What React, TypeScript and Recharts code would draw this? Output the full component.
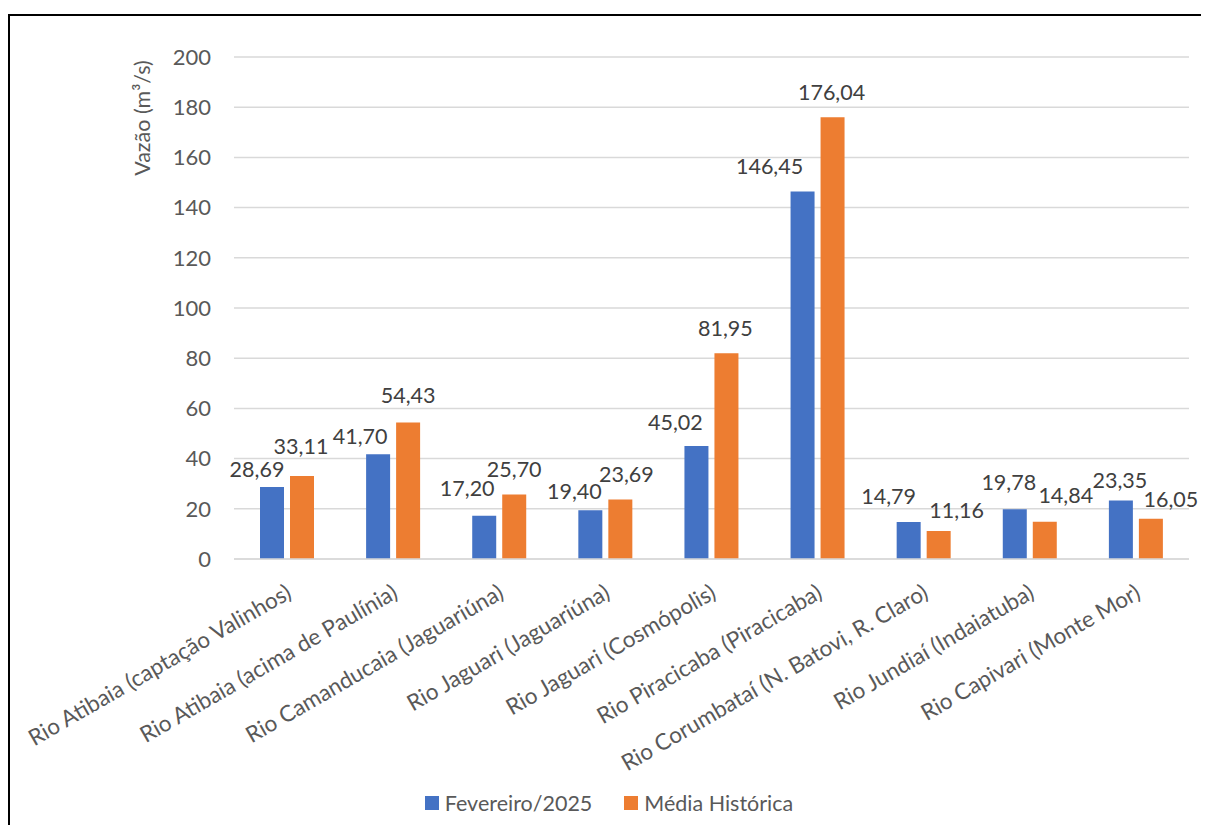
import React from 'react';
import {
  BarChart,
  Bar,
  XAxis,
  YAxis,
  CartesianGrid,
  Legend,
  LabelList,
  Label
} from 'recharts';

const categories = [
  'Rio Atibaia (captação Valinhos)',
  'Rio Atibaia (acima de Paulínia)',
  'Rio Camanducaia (Jaguariúna)',
  'Rio Jaguari (Jaguariúna)',
  'Rio Jaguari (Cosmópolis)',
  'Rio Piracicaba (Piracicaba)',
  'Rio Corumbataí (N. Batovi, R. Claro)',
  'Rio Jundiaí (Indaiatuba)',
  'Rio Capivari (Monte Mor)'
];
const fevereiro2025 = [28.69, 41.7, 17.2, 19.4, 45.02, 146.45, 14.79, 19.78, 23.35];
const mediaHistorica = [33.11, 54.43, 25.7, 23.69, 81.95, 176.04, 11.16, 14.84, 16.05];
const yTicks = [0, 20, 40, 60, 80, 100, 120, 140, 160, 180, 200];

// label nudges (px) so the value labels sit where the original placed them
const fevShift = [-15, -18, -17, -16, -21, -33, -20, -6, -1];
const fevLift = [17, 18, 27, 19, 23, 25, 25, 27, 20];
const medShift = [-1, 0, 0, 6, -1, -1, 18, 21, 20];
const medLift = [29, 27, 25, 25, 25, 25, 20, 26, 19];

const data = categories.map((name, i) => ({
  name,
  fev: fevereiro2025[i],
  med: mediaHistorica[i]
}));
const boundaryTicks = categories.map((_, i) => i).concat(categories.length);

const FONT = 'Lato, "Noto Sans", sans-serif';
const BLUE = '#4472C4';
const ORANGE = '#ED7D31';
const GRID = '#d9d9d9';
const TEXT = '#595959';

const fmt = (v: number) => v.toFixed(2).replace('.', ',');

const makeLabel = (shift: number[], lift: number[]) => (props: any) => {
  const { x, y, width, value, index } = props;
  return (
    <text
      x={x + width / 2 + shift[index]}
      y={y - lift[index] + 7.5}
      textAnchor="middle"
      fill="#404040"
      fontSize={21.5}
      fontFamily={FONT}
    >
      {fmt(value)}
    </text>
  );
};

function CategoryTick({ x, y, payload }: any) {
  const ax = x + 6;
  const ay = y + 38;
  return (
    <text
      x={ax}
      y={ay}
      transform={`rotate(-30 ${ax} ${ay})`}
      textAnchor="end"
      fill={TEXT}
      fontSize={22.5}
      fontFamily={FONT}
    >
      {payload.value}
    </text>
  );
}

function YTitle({ viewBox }: any) {
  const cx = viewBox.x + 135;
  const cy = viewBox.y + 61;
  return (
    <text
      x={cx}
      y={cy}
      transform={`rotate(-90 ${cx} ${cy})`}
      textAnchor="middle"
      dominantBaseline="central"
      fill={TEXT}
      fontSize={21.5}
      fontFamily={FONT}
    >
      Vazão (m³/s)
    </text>
  );
}

function LegendContent({ payload }: any) {
  return (
    <div
      style={{
        display: 'flex',
        justifyContent: 'center',
        alignItems: 'center',
        gap: 32,
        paddingLeft: 22,
        height: 24,
        fontFamily: FONT,
        fontSize: 21.5,
        color: TEXT
      }}
    >
      {(payload || []).map((p: any) => (
        <div key={p.value} style={{ display: 'flex', alignItems: 'center' }}>
          <span style={{ width: 14, height: 14, background: p.color, marginRight: 6, display: 'inline-block' }} />
          <span>{p.value}</span>
        </div>
      ))}
    </div>
  );
}

export default function App() {
  return (
    <div
      style={{
        position: 'relative',
        width: 1202,
        height: 817,
        marginLeft: -1,
        overflow: 'hidden',
        background: '#fff'
      }}
    >
      <style>{'html, body { overflow: hidden; }'}</style>
      <BarChart
        width={1202}
        height={817}
        data={data}
        margin={{ top: 49, right: 20, bottom: 10, left: 0 }}
        barSize={24}
        barGap={6}
      >
        <CartesianGrid vertical={false} stroke={GRID} strokeWidth={1.5} />
        <XAxis
          xAxisId="cat"
          dataKey="name"
          interval={0}
          height={232}
          tickLine={false}
          tickSize={0}
          tickMargin={0}
          axisLine={{ stroke: GRID, strokeWidth: 1.5 }}
          tick={<CategoryTick />}
        />
        <XAxis
          xAxisId="edges"
          type="number"
          domain={[0, categories.length]}
          ticks={boundaryTicks}
          allowDataOverflow
          mirror
          height={0}
          tick={false}
          tickSize={7}
          axisLine={false}
          tickLine={{ stroke: GRID, strokeWidth: 1.5 }}
        />
        <YAxis
          width={227}
          domain={[0, 200]}
          ticks={yTicks}
          tickLine={false}
          axisLine={false}
          tickSize={0}
          tickMargin={23}
          tick={{ fill: TEXT, fontSize: 22, fontFamily: FONT }}
        >
          <Label content={<YTitle />} />
        </YAxis>
        <Legend
          verticalAlign="bottom"
          height={24}
          content={<LegendContent />}
        />
        <Bar xAxisId="cat" dataKey="fev" name="Fevereiro/2025" fill={BLUE} isAnimationActive={false}>
          <LabelList dataKey="fev" content={makeLabel(fevShift, fevLift)} />
        </Bar>
        <Bar xAxisId="cat" dataKey="med" name="Média Histórica" fill={ORANGE} isAnimationActive={false}>
          <LabelList dataKey="med" content={makeLabel(medShift, medLift)} />
        </Bar>
      </BarChart>
      <div style={{ position: 'absolute', left: 0, top: 6, width: '100%', height: 2, background: '#000' }} />
      <div style={{ position: 'absolute', left: 0, top: 6, width: 3, height: 811, background: '#000' }} />
    </div>
  );
}
